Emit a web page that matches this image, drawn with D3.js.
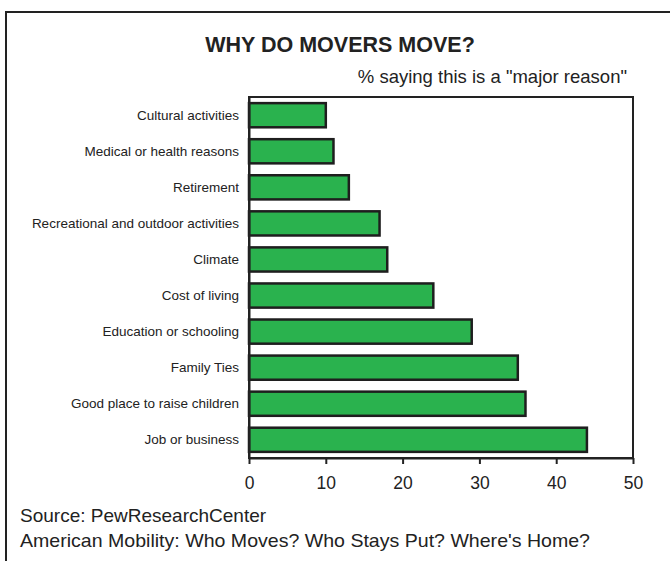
<!DOCTYPE html>
<html>
<head>
<meta charset="utf-8">
<script src="https://cdn.jsdelivr.net/npm/d3@7"></script>
<style>
  body { margin: 0; background: #fff; }
  text { font-family: 'Liberation Sans', Arial, sans-serif; fill: #222; }
</style>
</head>
<body>
<div class="chart"></div>
<script>
const reasons = ['Cultural activities', 'Medical or health reasons', 'Retirement',
  'Recreational and outdoor activities', 'Climate', 'Cost of living',
  'Education or schooling', 'Family Ties', 'Good place to raise children', 'Job or business']
const percents = [10, 11, 13, 17, 18, 24, 29, 35, 36, 44]
const xTicks = [0, 10, 20, 30, 40, 50]

const W = 670
const H = 561
const margin = {top: 97, right: 37, bottom: 103, left: 249}
const width = W - margin.left - margin.right
const height = H - margin.top - margin.bottom

const data = reasons.map((r, i) => ({reason: r, value: percents[i]}))

const svg = d3.select('.chart').append('svg')
  .attr('width', W)
  .attr('height', H)

// outer frame (open on right and bottom)
svg.append('path')
  .attr('d', `M6,${H} V12 H${W}`)
  .attr('fill', 'none')
  .attr('stroke', '#222')
  .attr('stroke-width', 2)

svg.append('text')
  .attr('x', 340)
  .attr('y', 52)
  .attr('text-anchor', 'middle')
  .style('font-size', '21.5px')
  .style('font-weight', 'bold')
  .text('WHY DO MOVERS MOVE?')

svg.append('text')
  .attr('x', 627)
  .attr('y', 83)
  .attr('text-anchor', 'end')
  .style('font-size', '18.5px')
  .text('% saying this is a "major reason"')

const g = svg.append('g')
  .attr('transform', `translate(${margin.left},${margin.top})`)

const x = d3.scaleLinear().domain([0, 50]).range([0, width])
const y = d3.scaleBand().domain(reasons).range([0, height]).paddingInner(0.33).paddingOuter(0.17)

// plot frame
g.append('rect')
  .attr('width', width)
  .attr('height', height)
  .attr('fill', 'none')
  .attr('stroke', '#222')
  .attr('stroke-width', 2)

g.selectAll('rect.bar').data(data)
  .enter().append('rect')
  .attr('class', 'bar')
  .attr('x', x(0))
  .attr('y', d => y(d.reason))
  .attr('width', d => x(d.value) - x(0))
  .attr('height', y.bandwidth())
  .attr('fill', '#2ab24e')
  .attr('stroke', '#1e1e1e')
  .attr('stroke-width', 2.5)

const axisX = g.append('g')
  .attr('transform', `translate(0,${height})`)
  .call(d3.axisBottom(x).tickValues(xTicks).tickSizeInner(6).tickSizeOuter(0).tickPadding(13))
axisX.select('.domain').attr('stroke', '#222').attr('stroke-width', 2)
axisX.selectAll('.tick line').attr('stroke', '#222').attr('stroke-width', 2)
axisX.selectAll('.tick text')
  .style('font-size', '17.5px')
  .style('font-family', "'Liberation Sans', Arial, sans-serif")
  .attr('fill', '#222')

const axisY = g.append('g')
  .call(d3.axisLeft(y).tickSize(0).tickPadding(10))
axisY.select('.domain').attr('stroke', '#222').attr('stroke-width', 2)
axisY.selectAll('.tick text')
  .style('font-size', '13.5px')
  .style('font-family', "'Liberation Sans', Arial, sans-serif")
  .attr('fill', '#222')

svg.append('text')
  .attr('x', 20)
  .attr('y', 522)
  .style('font-size', '19px')
  .text('Source: PewResearchCenter')

svg.append('text')
  .attr('x', 20)
  .attr('y', 547)
  .attr('textLength', 570)
  .attr('lengthAdjust', 'spacingAndGlyphs')
  .style('font-size', '19px')
  .text("American Mobility: Who Moves? Who Stays Put? Where's Home?")
</script>
</body>
</html>
